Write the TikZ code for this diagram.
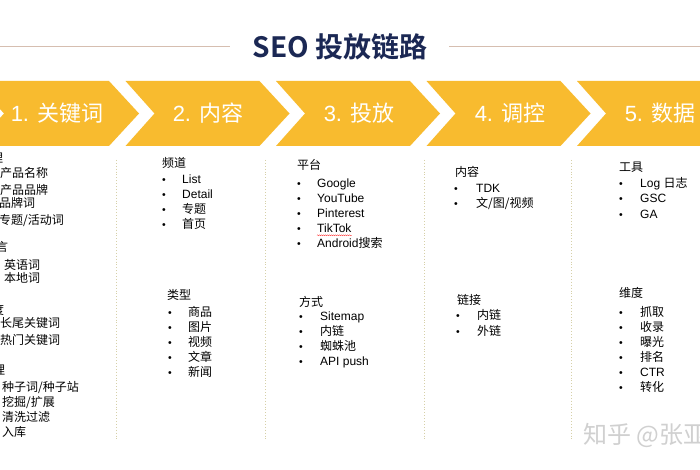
\documentclass[tikz,border=0pt]{standalone}
\usepackage{fontspec}
\usetikzlibrary{decorations.pathmorphing}
\setmainfont{Liberation Sans}
\newfontfamily\cjk{Noto Sans CJK SC}
\newfontfamily\cjkbold{Noto Sans CJK SC Bold}
\newcommand\zh[1]{{\cjk #1}}
\definecolor{chev}{RGB}{248,187,47}
\definecolor{navy}{RGB}{27,40,84}
\definecolor{rulecol}{RGB}{214,190,176}
\definecolor{sepcol}{RGB}{214,208,168}
\definecolor{wmcol}{RGB}{208,208,208}
\tikzset{
  titlenode/.style={inner sep=0, text=navy, font=\fontsize{28}{30}\selectfont\cjkbold},
  titlerule/.style={draw=rulecol, line width=0.8pt},
  chevlabel/.style={anchor=base, inner sep=0, text=white, font=\fontsize{22}{24}\selectfont},
  sepline/.style={draw=sepcol, line width=0.9pt, dotted},
  item/.style={anchor=base west, inner sep=0, font=\fontsize{12}{14}\selectfont},
  head/.style={anchor=base west, inner sep=0, font=\fontsize{12}{14}\selectfont\cjk},
  bul/.style={anchor=base, inner sep=0, font=\fontsize{10.5}{10.5}\selectfont},
  wmark/.style={anchor=base west, inner sep=0, text=wmcol, font=\fontsize{24}{26}\selectfont\cjk}
}
% #1 name, #2 bullet x, #3 text x, #4 first centre y, #5 step, #6 items
\newcommand\mklist[6]{%
  \foreach \t [count=\i from 0] in {#6} {
    \node[bul] (#1b\i) at (#2, #4+\i*#5+4.2) {\textbullet};
    \node[item] (#1t\i) at (#3, #4+\i*#5+4.5) {\t};
  }%
}
\begin{document}
\begin{tikzpicture}[x=1pt,y=-1pt]
\useasboundingbox (0,0) rectangle (700,470);
\clip (0,0) rectangle (700,470);
\fill[white] (0,0) rectangle (700,470);

% title
\node[titlenode] (title) at (340,47) {SEO 投放链路};
\coordinate (tl0) at (0,46);
\coordinate (tl1) at (230,46);
\coordinate (tr0) at (449,46);
\coordinate (tr1) at (700,46);
\draw[titlerule] (tl0) -- (tl1);
\draw[titlerule] (tr0) -- (tr1);

% chevrons
\foreach \k in {0,...,4} {
  \pgfmathsetmacro\L{-25+150.5*\k}
  \fill[chev] (\L,81) -- (\L+134,81) -- (\L+164,113.5) -- (\L+134,146) -- (\L,146) -- (\L+29,113.5) -- cycle;
}
\node[chevlabel] (k1) at (57,121.5) {1. \zh{关键词}};
\node[chevlabel] (k2) at (208,121.5) {2. \zh{内容}};
\node[chevlabel] (k3) at (359,121.5) {3. \zh{投放}};
\node[chevlabel] (k4) at (510,121.5) {4. \zh{调控}};
\node[chevlabel] (k5) at (660,121.5) {5. \zh{数据}};

% separators
\foreach \x [count=\j] in {116,265,424,571} {
  \coordinate (s\j t) at (\x,160);
  \coordinate (s\j b) at (\x,440);
  \draw[sepline] (s\j t) -- (s\j b);
}

% column 1 (cut at left edge, as in the reference)
\node[head] (h1a) at (-9,162.5) {理};
\node[item] (c1a0) at (0,177.5) {\zh{产品名称}};
\node[item] (c1a1) at (0,194.5) {\zh{产品品牌}};
\node[item] (c1a2) at (-1,207.5) {\zh{品牌词}};
\node[item] (c1a3) at (-1,224.5) {\zh{专题/活动词}};
\node[head] (h1b) at (-4,251.5) {言};
\node[item] (c1b0) at (4,269.5) {\zh{英语词}};
\node[item] (c1b1) at (4,282.5) {\zh{本地词}};
\node[head] (h1c) at (-8,314.5) {度};
\node[item] (c1c0) at (0,327.5) {\zh{长尾关键词}};
\node[item] (c1c1) at (0,344.5) {\zh{热门关键词}};
\node[head] (h1d) at (-7,374.5) {理};
\node[item] (c1d0) at (2,391.5) {\zh{种子词/种子站}};
\node[item] (c1d1) at (2,406.5) {\zh{挖掘/扩展}};
\node[item] (c1d2) at (2,421.5) {\zh{清洗过滤}};
\node[item] (c1d3) at (2,436.5) {\zh{入库}};

% column 2
\node[head] (h2a) at (162,167.5) {频道};
\mklist{c2a}{164}{182}{179}{15}{List,Detail,\zh{专题},\zh{首页}}
\node[head] (h2b) at (167,299.5) {类型};
\mklist{c2b}{170}{188}{312}{15}{\zh{商品},\zh{图片},\zh{视频},\zh{文章},\zh{新闻}}

% column 3
\node[head] (h3a) at (297,169.5) {平台};
\mklist{c3a}{299}{317}{183}{15}{Google,YouTube,Pinterest,TikTok,Android\zh{搜索}}
\draw[red!80, line width=0.4pt, decorate, decoration={snake, amplitude=0.5pt, segment length=2pt}]
  ([yshift=-2.5pt]c3at3.south west) -- ([yshift=-2.5pt]c3at3.south east);
\node[head] (h3b) at (299,306.5) {方式};
\mklist{c3b}{301}{320}{316}{15}{Sitemap,\zh{内链},\zh{蜘蛛池},API push}

% column 4
\node[head] (h4a) at (455,176.5) {内容};
\mklist{c4a}{456}{476}{188}{15}{TDK,\zh{文/图/视频}}
\node[head] (h4b) at (457,304.5) {链接};
\mklist{c4b}{458}{477}{315}{16}{\zh{内链},\zh{外链}}

% column 5
\node[head] (h5a) at (619,171.5) {工具};
\mklist{c5a}{621}{640}{183}{15.5}{Log \zh{日志},GSC,GA}
\node[head] (h5b) at (619,297.5) {维度};
\mklist{c5b}{621}{640}{312}{15}{\zh{抓取},\zh{收录},\zh{曝光},\zh{排名},CTR,\zh{转化}}

% watermark
\node[wmark] (wm) at (583,443) {知乎 @张亚};
\end{tikzpicture}
\end{document}
